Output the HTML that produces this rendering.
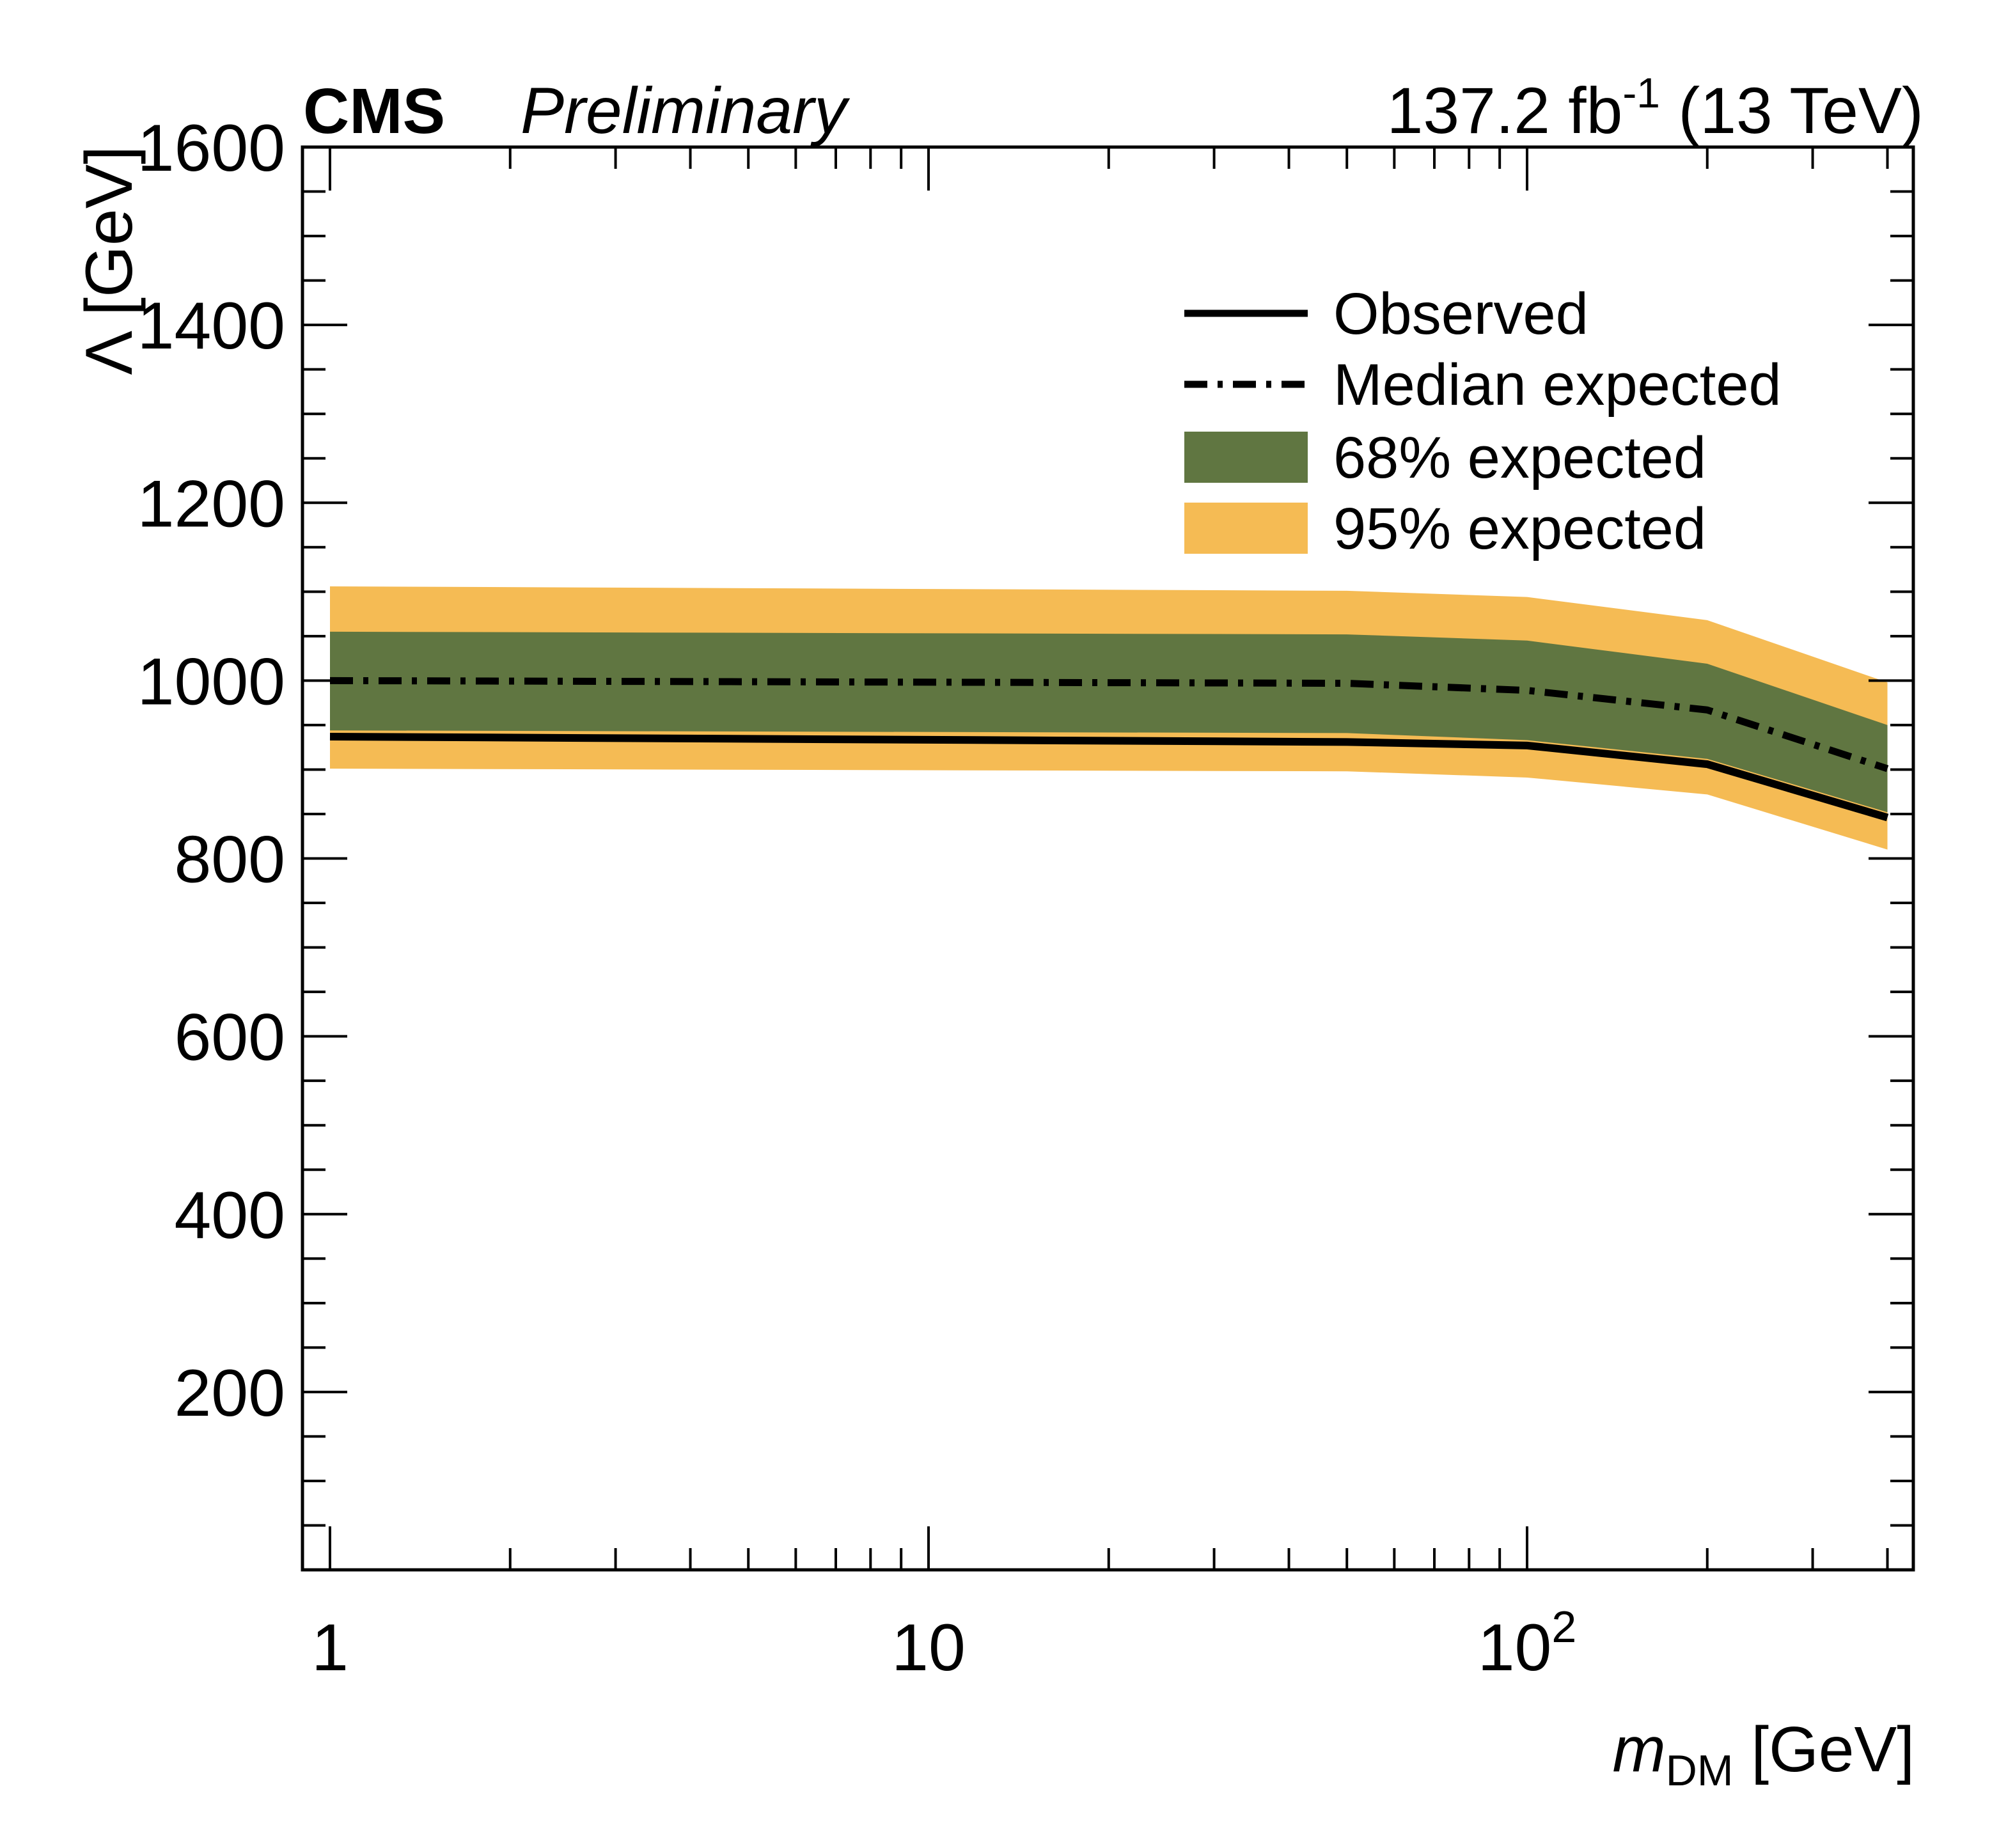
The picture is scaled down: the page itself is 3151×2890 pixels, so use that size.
<!DOCTYPE html>
<html><head><meta charset="utf-8"><style>
html,body{margin:0;padding:0;background:#fff;}
svg{display:block;font-family:"Liberation Sans",Arial,sans-serif;}
</style></head><body>
<svg id="chart" width="3151" height="2890" viewBox="0 0 3151 2890" xmlns="http://www.w3.org/2000/svg">
<g id="bands"></g>
<g id="lines"></g>
<g id="axes"></g>
<text x="474" y="208" font-size="100" font-weight="bold">CMS</text>
<text x="814" y="208" font-size="102" font-style="italic">Preliminary</text>
<text x="3008" y="208" font-size="102" text-anchor="end">137.2 fb<tspan dy="-40" font-size="66">-1</tspan><tspan dy="40"> (13 TeV)</tspan></text>
<text transform="translate(206,228) rotate(-90)" font-size="104" text-anchor="end">Λ [GeV]</text>
<text x="2994" y="2770" font-size="100" text-anchor="end"><tspan font-style="italic">m</tspan><tspan font-size="68" dy="22">DM</tspan><tspan dy="-22"> [GeV]</tspan></text>
<g>
<line x1="1852" y1="490" x2="2045" y2="490" stroke="#000" stroke-width="11"/>
<text x="2085" y="522" font-size="92">Observed</text>
<line x1="1852" y1="601" x2="2045" y2="601" stroke="#000" stroke-width="11" stroke-dasharray="36,16,8,16"/>
<text x="2085" y="633" font-size="92">Median expected</text>
<rect x="1852" y="675" width="193" height="80" fill="#607641"/>
<text x="2085" y="747" font-size="92">68% expected</text>
<rect x="1852" y="786" width="193" height="80" fill="#f5bb54"/>
<text x="2085" y="858" font-size="92">95% expected</text>
</g>
</svg>
<script>
const masses=[1,50,100,200,400];
const observed=[937,931,927,906,846];
const median=[1000,997,989,967,901];
const up68=[1055,1052,1045,1019,950];
const lo68=[944,941,933,912,852];
const up95=[1106,1101,1094,1068,998];
const lo95=[901,898,891,872,810];
const yTicks=[200,400,600,800,1000,1200,1400,1600];
const xTickVals=[1,10,100];
const xTickLabels=['1','10','10²'];

const L=473,R=2992,T=230,B=2455;
const x0=516,dec=936;
const X=v=>x0+Math.log10(v)*dec;
const Y=v=>B-(v/1600)*(B-T);
const NS='http://www.w3.org/2000/svg';
function mk(tag,attrs,parent){const e=document.createElementNS(NS,tag);for(const k in attrs)e.setAttribute(k,attrs[k]);parent.appendChild(e);return e;}
const bands=document.getElementById('bands'),lines=document.getElementById('lines'),axes=document.getElementById('axes');
function bandPath(u,l){let d='M'+masses.map((m,i)=>X(m)+','+Y(u[i])).join('L');d+='L'+masses.slice().reverse().map((m,j)=>X(m)+','+Y(l[masses.length-1-j])).join('L')+'Z';return d;}
const b95=mk('path',{d:bandPath(up95,lo95),fill:'#f5bb54'},bands);


const b68=mk('path',{d:bandPath(up68,lo68),fill:'#607641'},bands);


const med=mk('polyline',{points:masses.map((m,i)=>X(m)+','+Y(median[i])).join(' '),fill:'none',stroke:'#000','stroke-width':11,'stroke-dasharray':'36,16,8,16'},lines);


const obs=mk('polyline',{points:masses.map((m,i)=>X(m)+','+Y(observed[i])).join(' '),fill:'none',stroke:'#000','stroke-width':12},lines);


const frame=mk('rect',{x:L,y:T,width:R-L,height:B-T,fill:'none',stroke:'#000','stroke-width':5},axes);


for(let v=50;v<1600;v+=50){const major=v%200===0;const len=major?70:36;const y=Y(v);
mk('line',{x1:L,y1:y,x2:L+len,y2:y,stroke:'#000','stroke-width':4},axes);
mk('line',{x1:R,y1:y,x2:R-len,y2:y,stroke:'#000','stroke-width':4},axes);}
yTicks.forEach(v=>{const t=mk('text',{x:446,y:Y(v)+37,'font-size':104,'text-anchor':'end'},axes);t.textContent=v;

});
for(let d=0;d<3;d++){for(let k=1;k<10;k++){const v=k*Math.pow(10,d);if(v>445)break;const x=X(v);const len=k===1?68:34;
mk('line',{x1:x,y1:B,x2:x,y2:B-len,stroke:'#000','stroke-width':4},axes);
mk('line',{x1:x,y1:T,x2:x,y2:T+len,stroke:'#000','stroke-width':4},axes);}}
xTickVals.forEach((v,i)=>{const t=mk('text',{x:X(v),y:2612,'font-size':104,'text-anchor':'middle'},axes);
if(xTickLabels[i]==='10²'){t.textContent='10';const s=mk('tspan',{dy:-44,'font-size':70},t);s.textContent='2';}else t.textContent=xTickLabels[i];

});
</script>
</body></html>
